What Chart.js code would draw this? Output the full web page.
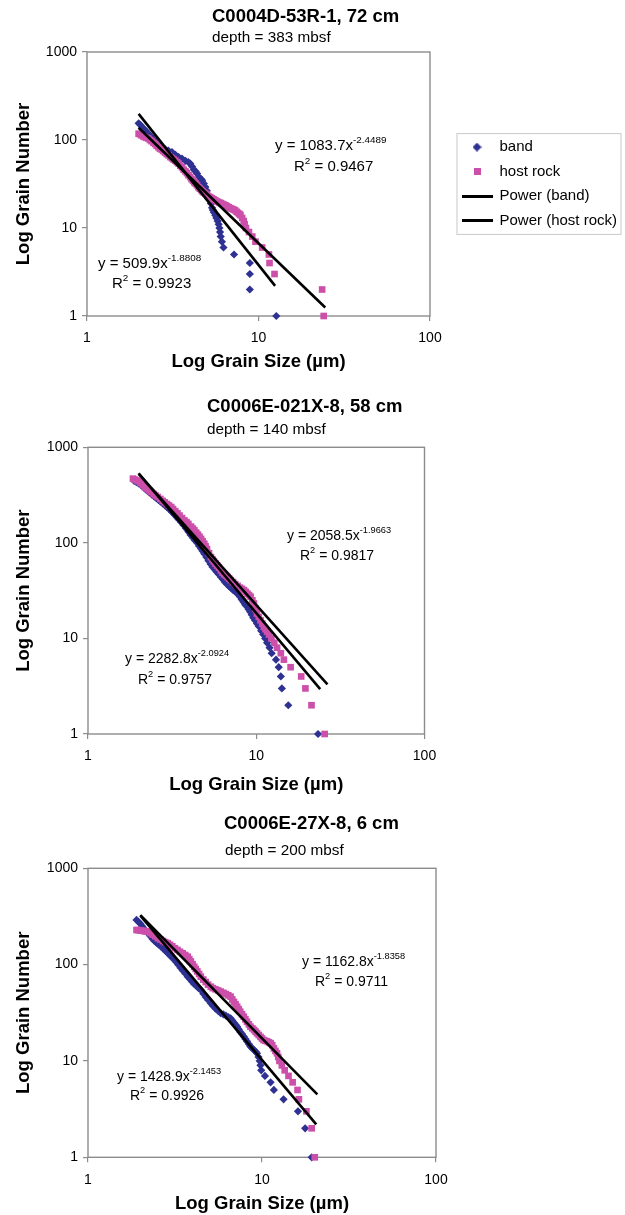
<!DOCTYPE html>
<html><head><meta charset="utf-8">
<script src="https://cdn.jsdelivr.net/npm/chart.js@4.4.1/dist/chart.umd.min.js"></script>
<style>
html,body{margin:0;padding:0;background:#fff;}
body{width:625px;height:1215px;position:relative;overflow:hidden;}
canvas{position:absolute;left:0;}
</style></head><body>
<canvas id="c1" width="625" height="380" style="top:0px;width:625px;height:380px"></canvas>
<canvas id="c2" width="625" height="405" style="top:395px;width:625px;height:405px"></canvas>
<canvas id="c3" width="625" height="410" style="top:810px;width:625px;height:410px"></canvas>
<script>
// ---------- data ----------
const seriesNames = ['band', 'host rock', 'Power (band)', 'Power (host rock)'];
const xTickValues = [1, 10, 100];
const yTickValues = [1, 10, 100, 1000];
const xAxisTitle = 'Log Grain Size (µm)';
const yAxisTitle = 'Log Grain Number';

// Chart 1
const c1Title = 'C0004D-53R-1, 72 cm';
const c1Subtitle = 'depth = 383 mbsf';
const c1BandX = [2.0,2.05,2.1,2.16,2.22,2.28,2.36,2.44,2.52,2.62,2.73,2.85,2.98,3.13,3.28,3.42,3.58,3.75,3.9,4.0,4.1,4.2,4.3,4.38,4.5,4.62,4.69,4.8,4.9,5.0,5.12,5.2,5.28,5.36,5.42,5.5,5.6,5.68,5.78,5.86,5.92,5.97,6.02,6.12,6.25,7.2,8.9,8.9,8.9,12.7];
const c1BandY = [155,148,140,132,125,118,110,102,95,89,83,79,76,73,68,64,61.5,58,56,54,50,46,44,41.5,38,36,34.8,32,29.2,26.5,23.5,21,19,17,16,15,14,13,12,11,10,9,8,7,6,5,4,3,2,1];
const c1HostX = [2.0,2.04,2.08,2.13,2.17,2.22,2.28,2.33,2.38,2.44,2.5,2.55,2.61,2.66,2.72,2.78,2.85,2.92,2.99,3.06,3.13,3.2,3.28,3.35,3.42,3.5,3.58,3.66,3.75,3.83,3.91,4.0,4.07,4.15,4.22,4.3,4.38,4.47,4.55,4.64,4.72,4.8,4.9,5.0,5.1,5.22,5.35,5.47,5.6,5.75,5.9,6.02,6.15,6.28,6.41,6.55,6.7,6.85,7.0,7.15,7.3,7.45,7.6,7.75,7.85,8.03,8.2,8.3,8.45,8.8,9.2,9.6,10.5,11.5,11.6,12.4,23.5,24];
const c1HostY = [118,116,113,110,108,106,104,100,97,93,90,86,83,80,78,75,72,69,67,64,62,60,58,56,54,51,49,46,44,42,39.7,38,36,34.5,33,32,30.6,29,28,27,26,25.3,24.6,24,23,22.4,21.8,21.2,20.6,20,19.5,19.2,18.8,18.4,18.1,17.7,17.2,16.8,16.5,16.2,15.9,15.3,14.8,14.4,14,13,12,11,10,9,8,7,6,5,4,3,2,1];
const c1PowerBandX = [2, 12.5];
const c1PowerBandY = [198, 2.2];
const c1PowerHostX = [2, 24.5];
const c1PowerHostY = [138, 1.25];
const c1Equations = [['y = 1083.7x', '-2.4489', '0.9467'], ['y = 509.9x', '-1.8808', '0.9923']];

// Chart 2
const c2Title = 'C0006E-021X-8, 58 cm';
const c2Subtitle = 'depth = 140 mbsf';
const c2BandX = [1.88,1.94,2.0,2.06,2.12,2.18,2.25,2.32,2.4,2.47,2.55,2.62,2.7,2.79,2.88,2.96,3.05,3.15,3.25,3.35,3.45,3.57,3.7,3.82,3.95,4.07,4.2,4.32,4.45,4.57,4.7,4.8,4.91,5.05,5.2,5.35,5.5,5.65,5.8,5.98,6.16,6.33,6.5,6.7,6.9,7.1,7.3,7.52,7.74,7.97,8.2,8.4,8.6,8.85,9.0,9.2,9.4,9.6,9.85,10.1,10.35,10.7,11.0,11.3,11.6,12.0,12.35,13.1,13.6,14.0,14.2,15.5,23.3];
const c2BandY = [445,432,420,405,388,370,352,336,320,306,293,281,270,257,245,235,224,211,199,188,177,165,153,142,131,121,113,106,100,93,87,82,77,71,65,60,56,53,50,47,44,41.5,39,37,35,33.5,32,30.7,29.5,27.5,25.5,24,22.5,21.5,20.2,19,17.7,16.5,15.4,14.3,13.4,12,11,10,9,8,7,6,5,4,3,2,1];
const c2HostX = [1.85,1.9,1.95,2.0,2.05,2.11,2.17,2.23,2.3,2.37,2.45,2.52,2.6,2.69,2.78,2.86,2.95,3.03,3.12,3.2,3.3,3.4,3.5,3.62,3.74,3.85,3.95,4.1,4.2,4.29,4.4,4.5,4.6,4.7,4.8,4.91,5.0,5.1,5.24,5.38,5.5,5.6,5.72,5.85,6.0,6.16,6.3,6.45,6.6,6.75,6.9,7.06,7.28,7.5,7.75,8.0,8.23,8.46,8.65,8.85,9.05,9.26,9.48,9.69,9.9,10.1,10.35,10.6,10.85,11.1,11.35,11.6,11.9,12.3,12.8,13.3,14.0,14.6,16.0,18.5,19.6,21.3,25.5];
const c2HostY = [470,460,450,440,425,405,384,370,355,340,325,313,302,288,275,265,255,246,237,226,215,204,193,182,172,165,158,148,141,135,128,122,116,110,104,98,92,86,78,71,67,64,61,58,55,51.7,49,47,45.5,44,42.3,40.7,38.8,37,35.5,34,33,32,30.7,29.5,28.4,27.3,25,23.2,20.5,18.2,16.8,15.5,14.3,13.2,12.5,11.8,11,10,9,8,7,6,5,4,3,2,1];
const c2PowerBandX = [2, 24];
const c2PowerBandY = [535, 2.95];
const c2PowerHostX = [2, 26.5];
const c2PowerHostY = [527, 3.3];
const c2Equations = [['y = 2058.5x', '-1.9663', '0.9817'], ['y = 2282.8x', '-2.0924', '0.9757']];

// Chart 3
const c3Title = 'C0006E-27X-8, 6 cm';
const c3Subtitle = 'depth = 200 mbsf';
const c3BandX = [1.9,1.95,2.0,2.05,2.1,2.15,2.21,2.28,2.35,2.41,2.48,2.55,2.63,2.71,2.8,2.88,2.97,3.05,3.14,3.22,3.3,3.4,3.5,3.62,3.74,3.85,3.95,4.07,4.2,4.32,4.45,4.6,4.75,4.9,5.08,5.22,5.4,5.6,5.79,6.0,6.2,6.4,6.6,6.75,6.9,7.05,7.2,7.35,7.5,7.68,7.86,8.03,8.2,8.4,8.58,8.8,9.0,9.2,9.36,9.55,9.7,9.8,9.9,10.4,11.2,11.7,13.3,16.1,17.7,19.3];
const c3BandY = [291,278,265,250,235,223,212,198,185,176,168,161,154,146,138,131,124,118,112,106,100,93,87,81,75,71,67,63,60,57,54.6,50,46,43,39.7,37.5,35,33,31.3,30.4,29.5,28.6,27.7,26.3,25,23.8,22.7,21.3,20,19,17.9,16.9,16,15,14.1,13.5,13,12.5,12,11,10,9,8,7,6,5,4,3,2,1];
const c3HostX = [1.9,1.95,2.0,2.05,2.1,2.15,2.21,2.28,2.35,2.43,2.52,2.61,2.7,2.78,2.87,2.96,3.05,3.16,3.27,3.38,3.5,3.62,3.74,3.82,3.9,3.99,4.08,4.16,4.25,4.35,4.45,4.6,4.75,4.9,5.08,5.22,5.4,5.6,5.79,6.0,6.2,6.4,6.6,6.75,6.9,7.05,7.2,7.35,7.5,7.68,7.86,8.03,8.2,8.4,8.58,8.8,9.0,9.18,9.36,9.58,9.8,10.0,10.2,10.45,10.7,10.95,11.2,11.45,11.7,11.95,12.2,12.4,12.6,13.0,13.5,14.2,15.0,16.0,16.3,18.0,19.3,20.1];
const c3HostY = [229,228,226,225,223,221,220,212,205,197,188,182,176,171,167,161,155,148,142,136,131,126,121,114,108,101,95,90,85,80,75,70,66,62,59,57,55.5,54,52.5,51,49.5,48,46.5,43.5,41,38.7,36.6,34.5,32.5,30.5,28.8,27,25.5,24,22.7,21.8,21,20.2,19.4,18.6,17.8,17.1,16.5,16.2,16,15.6,15.3,14.6,13.5,12.7,12,11,10,9,8,7,6,5,4,3,2,1];
const c3PowerBandX = [2, 20.5];
const c3PowerBandY = [323, 2.2];
const c3PowerHostX = [2, 20.8];
const c3PowerHostY = [326, 4.5];
const c3Equations = [['y = 1162.8x', '-1.8358', '0.9711'], ['y = 1428.9x', '-2.1453', '0.9926']];

// ---------- styling / layout ----------
const FONT = "'Liberation Sans', Arial, Helvetica, sans-serif";
const BLUE = '#2E3192', PINK = '#CC4FAA', GRAY = '#8C8C8C';

function icon(kind) {
  const c = document.createElement('canvas');
  const g = c.getContext('2d');
  if (kind === 'diamond') {
    c.width = 9; c.height = 9; g.fillStyle = BLUE;
    g.beginPath(); g.moveTo(4.5, 0); g.lineTo(9, 4.5); g.lineTo(4.5, 9); g.lineTo(0, 4.5); g.closePath(); g.fill();
  } else if (kind === 'square') {
    c.width = 7; c.height = 7; g.fillStyle = PINK; g.fillRect(0, 0, 7, 7);
  } else {
    c.width = 31; c.height = 3; g.fillStyle = '#000'; g.fillRect(0, 0, 31, 3);
  }
  return c;
}
const legendIcons = [icon('diamond'), icon('square'), icon('line'), icon('line')];

function drawParts(ctx, x, y, parts, size) {
  let cx = x;
  ctx.fillStyle = '#000';
  ctx.textAlign = 'left';
  ctx.textBaseline = 'middle';
  for (const [t, sup] of parts) {
    ctx.font = (sup ? size * 0.66 : size) + 'px ' + FONT;
    ctx.fillText(t, cx, sup ? y - size * 0.38 : y);
    cx += ctx.measureText(t).width;
  }
}

function makeChart(id, d) {
  const ds = (label, xs, ys, extra) => Object.assign({ label, data: xs.map((x, i) => ({ x, y: ys[i] })), clip: false }, extra);
  const datasets = [
    ds(seriesNames[0], d.bandX, d.bandY, { pointStyle: 'rectRot', pointRadius: 4.1, pointHoverRadius: 4.1, pointBackgroundColor: BLUE, backgroundColor: BLUE, borderColor: BLUE, pointBorderWidth: 0, order: 3 }),
    ds(seriesNames[1], d.hostX, d.hostY, { pointStyle: 'rect', pointRadius: 4.7, pointHoverRadius: 4.7, pointBackgroundColor: PINK, backgroundColor: PINK, borderColor: PINK, pointBorderWidth: 0, order: 2 }),
    ds(seriesNames[2], d.pbX, d.pbY, { showLine: true, borderColor: '#000', backgroundColor: '#000', borderWidth: 2.6, pointRadius: 0, pointHoverRadius: 0, order: 1 }),
    ds(seriesNames[3], d.phX, d.phY, { showLine: true, borderColor: '#000', backgroundColor: '#000', borderWidth: 2.6, pointRadius: 0, pointHoverRadius: 0, order: 0 })
  ];
  const tickFont = { family: FONT, size: 14 };
  const axisTitleFont = { family: FONT, size: 18.5, weight: 'bold' };
  const gridOpts = { display: true, drawOnChartArea: false, drawTicks: true, tickLength: 5, color: GRAY, lineWidth: 1.2 };

  const extras = {
    id: 'extras' + id,
    beforeDatasetsDraw(chart) {
      const { ctx, chartArea: a } = chart;
      ctx.save();
      ctx.strokeStyle = GRAY; ctx.lineWidth = 1.4;
      ctx.strokeRect(a.left, a.top, a.right - a.left, a.bottom - a.top);
      ctx.restore();
    },
    afterDraw(chart) {
      const ctx = chart.ctx;
      ctx.save();
      // chart title + depth line (left-aligned block, as in the source figure)
      ctx.fillStyle = '#000'; ctx.textAlign = 'left'; ctx.textBaseline = 'middle';
      ctx.font = 'bold 18.5px ' + FONT;
      ctx.fillText(d.title, d.titlePos[0], d.titlePos[1]);
      ctx.font = '15.3px ' + FONT;
      ctx.fillText(d.subtitle, d.subPos[0], d.subPos[1]);
      d.eqs.forEach((e, i) => {
        const p = d.eqPos[i];
        drawParts(ctx, p[0], p[1], [[e[0], false], [e[1], true]], d.eqSize);
        drawParts(ctx, p[2], p[3], [['R', false], ['2', true], [' = ' + e[2], false]], d.eqSize);
      });
      if (d.legend && chart.legend && chart.legend.legendHitBoxes.length) {
        const hb = chart.legend.legendHitBoxes;
        const l = hb[0].left - 5, t = hb[0].top - 6;
        const b = hb[hb.length - 1].top + hb[hb.length - 1].height + 6;
        ctx.strokeStyle = '#C8C8C8'; ctx.lineWidth = 1;
        ctx.strokeRect(l, t, 621 - l, b - t);
      }
      ctx.restore();
    }
  };

  return new Chart(document.getElementById(id), {
    type: 'scatter',
    data: { datasets },
    options: {
      responsive: false, animation: false, devicePixelRatio: 1,
      events: [],
      layout: { padding: { left: 0, right: 0, top: d.plotTop, bottom: d.padBottom } },
      scales: {
        x: {
          type: 'logarithmic', position: 'bottom', min: 1, max: 100,
          afterBuildTicks: s => { s.ticks = xTickValues.map(v => ({ value: v })); },
          ticks: { callback: v => String(v), color: '#000', font: tickFont, padding: 9, autoSkip: false, maxRotation: 0, minRotation: 0 },
          grid: gridOpts, border: { display: false },
          title: { display: true, text: xAxisTitle, color: '#000', font: axisTitleFont, padding: { top: 0, bottom: 0 } },
          afterFit: s => { s.height = d.xH; }
        },
        y: {
          type: 'logarithmic', position: 'left', min: 1, max: 1000,
          afterBuildTicks: s => { s.ticks = yTickValues.map(v => ({ value: v })); },
          ticks: { callback: v => String(v), color: '#000', font: tickFont, padding: 5, autoSkip: false },
          grid: gridOpts, border: { display: false },
          title: { display: true, text: yAxisTitle, color: '#000', font: axisTitleFont, padding: { top: 12.9, bottom: 0 } },
          afterFit: s => { s.width = d.yW; }
        },
        gap: {
          type: 'linear', axis: 'y', position: 'right', display: true,
          grid: { display: false }, border: { display: false }, ticks: { display: false },
          afterFit: s => { s.width = d.gapW; }
        }
      },
      plugins: {
        tooltip: { enabled: false },
        title: { display: false },
        subtitle: { display: false },
        legend: d.legend ? {
          display: true, position: 'right', align: 'center', fullSize: false, maxWidth: d.legendW,
          labels: {
            usePointStyle: true, pointStyleWidth: 30, padding: 9.6, color: '#000',
            font: { family: FONT, size: 15 },
            sort: (a, b) => a.datasetIndex - b.datasetIndex,
            generateLabels: chart => Chart.defaults.plugins.legend.labels.generateLabels(chart)
              .map(it => Object.assign({}, it, { pointStyle: legendIcons[it.datasetIndex], lineWidth: 0 }))
          }
        } : { display: false }
      }
    },
    plugins: [extras]
  });
}

makeChart('c1', {
  bandX: c1BandX, bandY: c1BandY, hostX: c1HostX, hostY: c1HostY,
  pbX: c1PowerBandX, pbY: c1PowerBandY, phX: c1PowerHostX, phY: c1PowerHostY,
  title: c1Title, subtitle: c1Subtitle, eqs: c1Equations,
  titlePos: [212, 17], subPos: [212, 37.5],
  eqPos: [[275, 146, 294, 167], [98, 264, 112, 284]], eqSize: 15,
  legend: true, legendW: 172.6, gapW: 22.4, yW: 87, xH: 57.2, padBottom: 6.8, plotTop: 52
});
makeChart('c2', {
  bandX: c2BandX, bandY: c2BandY, hostX: c2HostX, hostY: c2HostY,
  pbX: c2PowerBandX, pbY: c2PowerBandY, phX: c2PowerHostX, phY: c2PowerHostY,
  title: c2Title, subtitle: c2Subtitle, eqs: c2Equations,
  titlePos: [207, 12], subPos: [207, 35],
  eqPos: [[287, 141, 300, 161], [125, 264, 138, 285]], eqSize: 14,
  legend: false, gapW: 200.5, yW: 88, xH: 61.9, padBottom: 4.1, plotTop: 52.3
});
makeChart('c3', {
  bandX: c3BandX, bandY: c3BandY, hostX: c3HostX, hostY: c3HostY,
  pbX: c3PowerBandX, pbY: c3PowerBandY, phX: c3PowerHostX, phY: c3PowerHostY,
  title: c3Title, subtitle: c3Subtitle, eqs: c3Equations,
  titlePos: [224, 13.5], subPos: [225, 41],
  eqPos: [[302, 152, 315, 172], [117, 267, 130, 286]], eqSize: 14,
  legend: false, gapW: 189, yW: 88, xH: 57.9, padBottom: 4.8, plotTop: 58.3
});
</script>
</body></html>
